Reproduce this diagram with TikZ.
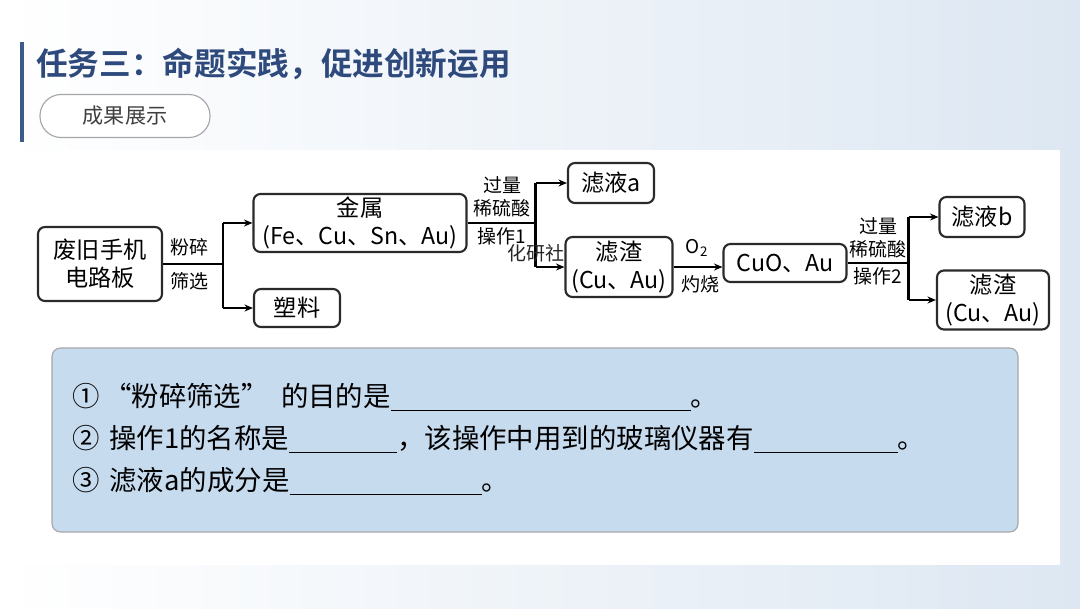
\documentclass[tikz,border=0pt]{standalone}
\usepackage{fontspec}
\setmainfont{Noto Sans CJK SC}[BoldFont={Noto Sans CJK SC Bold}]
\usepackage{xcolor}
\usepackage{tikz}
\usetikzlibrary{arrows.meta,positioning,calc}

\definecolor{titleblue}{HTML}{2E4A7D}
\definecolor{barblue}{HTML}{3C5A8A}
\definecolor{qfill}{HTML}{C7DBEF}
\definecolor{bgblue}{HTML}{DDE7F2}
\definecolor{boxline}{HTML}{2A2A2A}

\newcommand{\fillin}[1]{\rule[-3pt]{#1}{0.7pt}}

\tikzset{
    stepbox/.style={draw=boxline, line width=1.5pt, rounded corners=5pt, fill=white,
        align=center, inner sep=0pt, font=\fontsize{16.5}{20}\selectfont},
    flow/.style={line width=1.6pt},
    flowarrow/.style={line width=1.6pt, -{Stealth[length=6pt,width=5pt]}},
    cond/.style={font=\fontsize{13.5}{15}\selectfont, inner sep=0pt},
    question/.style={anchor=west, inner sep=0pt, font=\fontsize{19.5}{22}\selectfont},
}

\begin{document}
\begin{tikzpicture}[x=0.025cm, y=-0.025cm]
    % Background and panels
    \useasboundingbox (0,0) rectangle (1080,608);
    \shade[left color=white, right color=bgblue] (0,0) rectangle (1080,608);
    \fill[white] (20,150) rectangle (1060,565);
    \fill[barblue] (20,42) rectangle (24,142);
    \node[anchor=west, inner sep=0pt, font=\fontsize{22.5}{24}\selectfont\bfseries, text=titleblue] (title) at (36,64) {任务三：命题实践，促进创新运用};
    \node[draw=gray!70, line width=0.8pt, fill=white, rounded corners=0.53cm, minimum width=4.25cm, minimum height=1.075cm, font=\fontsize{15}{17}\selectfont, text=black!75] (tag) at (125,116) {成果展示};

    % Flow boxes
    \node[stepbox, minimum width=3.1cm, minimum height=1.85cm] (board) at (100,264) {废旧手机\\电路板};
    \node[stepbox, minimum width=5.325cm, minimum height=1.45cm] (metal) at (360,223) {金属\\(Fe、Cu、Sn、Au)};
    \node[stepbox, minimum width=2.15cm, minimum height=0.95cm] (plastic) at (297,308) {塑料};
    \node[stepbox, minimum width=2.15cm, minimum height=1.0cm] (filtA) at (611,183) {滤液a};
    \node[stepbox, minimum width=2.675cm, minimum height=1.5cm] (resA) at (619,267) {滤渣\\(Cu、Au)};
    \node[stepbox, minimum width=3.075cm, minimum height=0.95cm] (cuo) at (785,263) {CuO、Au};
    \node[stepbox, minimum width=2.125cm, minimum height=1.0cm] (filtB) at (982,217) {滤液b};
    \node[stepbox, minimum width=2.8cm, minimum height=1.475cm] (resB) at (993,300) {滤渣\\(Cu、Au)};

    % Crushing and sieving
    \coordinate (split1) at ($(board.east)+(60,0)$);
    \draw[flow] (board.east) -- (split1);
    \draw[flow] (split1 |- metal.west) -- (split1 |- plastic.west);
    \draw[flowarrow] (split1 |- metal.west) -- (metal.west);
    \draw[flowarrow] (split1 |- plastic.west) -- (plastic.west);
    \node[cond] (crush) at (189,247) {粉碎};
    \node[cond] (sieve) at (189,281) {筛选};

    % Operation 1
    \coordinate (split2) at ($(metal.east)+(68,0)$);
    \draw[flow] (metal.east) -- (split2);
    \draw[flow] (split2 |- filtA.west) -- (split2 |- resA.west);
    \draw[flowarrow] (split2 |- filtA.west) -- (filtA.west);
    \draw[flowarrow] (split2 |- resA.west) -- (resA.west);
    \node[cond] (acidA1) at (502,185) {过量};
    \node[cond] (acidA2) at (502,208) {稀硫酸};
    \node[cond] (opA) at (502,236) {操作1};
    \node[cond, text=black!85] (mark) at (536,253) {化研社};

    % Roasting
    \draw[flowarrow] (resA.east) -- (cuo.west |- resA.east);
    \node[cond] (oxy) at (697,248) {O\textsubscript{2}};
    \node[cond] (roast) at (700,284) {灼烧};

    % Operation 2
    \coordinate (split3) at ($(cuo.east)+(61,0)$);
    \draw[flow] (cuo.east) -- (split3);
    \draw[flow] (split3 |- filtB.west) -- (split3 |- resB.west);
    \draw[flowarrow] (split3 |- filtB.west) -- (filtB.west);
    \draw[flowarrow] (split3 |- resB.west) -- (resB.west);
    \node[cond] (acidB1) at (878,226) {过量};
    \node[cond] (acidB2) at (878,249) {稀硫酸};
    \node[cond] (opB) at (878,276) {操作2};

    % Questions
    \draw[draw=gray!70, line width=0.8pt, fill=qfill, rounded corners=6pt] (52,348) rectangle (1018,532);
    \node[question] (q1) at (72,397) {①\,“粉碎筛选”\ \ 的目的是\fillin{7.5cm}。};
    \node[question] (q2) at (72,439) {②\hspace{7pt}操作1的名称是\fillin{2.7cm}，该操作中用到的玻璃仪器有\fillin{3.6cm}。};
    \node[question] (q3) at (72,481) {③\hspace{7pt}滤液a的成分是\fillin{4.8cm}。};
\end{tikzpicture}
\end{document}
